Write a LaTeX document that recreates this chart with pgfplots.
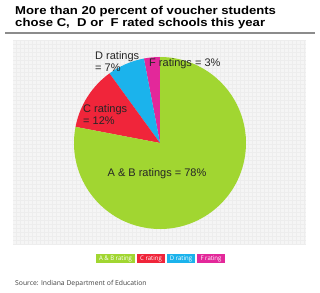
\documentclass[border=0pt]{standalone}
\usepackage{pgfplots}
\usepackage{pgfplotstable}
\pgfplotsset{compat=1.18}
\usepackage{fontspec}
\setmainfont{Liberation Sans}
\newfontfamily\srcfont{Open Sans}
\definecolor{cAB}{HTML}{A1D631}
\definecolor{cC}{HTML}{F0253A}
\definecolor{cD}{HTML}{1BB3EC}
\definecolor{cF}{HTML}{E3289A}
\definecolor{panel}{HTML}{F5F5F5}
\definecolor{gridc}{HTML}{EDEDED}

\pgfplotstableread{
name pct
AB 78
C 12
D 7
F 3
}\ratings

\begin{document}
\begin{tikzpicture}
\pgfplotstablegetelem{0}{pct}\of\ratings \edef\pAB{\pgfplotsretval}
\pgfplotstablegetelem{1}{pct}\of\ratings \edef\pC{\pgfplotsretval}
\pgfplotstablegetelem{2}{pct}\of\ratings \edef\pD{\pgfplotsretval}
\pgfplotstablegetelem{3}{pct}\of\ratings \edef\pF{\pgfplotsretval}
\pgfmathsetmacro{\aF}{90+3.6*\pF}
\pgfmathsetmacro{\aD}{\aF+3.6*\pD}
\pgfmathsetmacro{\aC}{\aD+3.6*\pC}
\pgfmathsetmacro{\aAB}{\aC+3.6*\pAB}
\begin{axis}[
  scale only axis, width=320pt, height=292pt,
  xmin=0, xmax=320, ymin=0, ymax=292,
  hide axis, clip=false,
]
\coordinate (SW) at (axis cs:0,0);
\coordinate (NE) at (axis cs:320,292);
% panel
\fill[panel] (axis cs:13,47) rectangle (axis cs:306,252);
\draw[gridc, line width=0.3pt, step=4pt] (axis cs:13,47) grid (axis cs:306,252);
% title rule
\draw[black!45, line width=1.8pt] (axis cs:5,259) -- (axis cs:315,259);
% title
\node[anchor=base west, font=\bfseries\fontsize{11.4}{12}\selectfont, inner sep=0pt, xscale=1.15] at (axis cs:15,277) {More than 20 percent of voucher students};
\node[anchor=base west, font=\bfseries\fontsize{11.4}{12}\selectfont, inner sep=0pt, xscale=1.15] at (axis cs:15,265.5) {chose C,\ \ D or\ \ F rated schools this year};
% pie
\coordinate (O) at (axis cs:160,149);
\fill[cF] (O) -- ++(90:86) arc[start angle=90, end angle=\aF, radius=86] -- cycle;
\fill[cD] (O) -- ++(\aF:86) arc[start angle=\aF, end angle=\aD, radius=86] -- cycle;
\fill[cC] (O) -- ++(\aD:86) arc[start angle=\aD, end angle=\aC, radius=86] -- cycle;
\fill[cAB] (O) -- ++(\aC:86) arc[start angle=\aC, end angle=\aAB, radius=86] -- cycle;
% labels
\node[anchor=base, font=\fontsize{11}{11}\selectfont, text=black!85, inner sep=0pt] at (axis cs:157,116) {A \& B ratings = 78\%};
\node[anchor=base west, font=\fontsize{11}{10}\selectfont, text=black!85, inner sep=0pt] at (axis cs:83,179) {C ratings};
\node[anchor=base west, font=\fontsize{11}{10}\selectfont, text=black!85, inner sep=0pt] at (axis cs:83,167.5) {= 12\%};
\node[anchor=base west, font=\fontsize{11}{10}\selectfont, text=black!85, inner sep=0pt] at (axis cs:95,232) {D ratings};
\node[anchor=base west, font=\fontsize{11}{10}\selectfont, text=black!85, inner sep=0pt] at (axis cs:95,220) {= 7\%};
\node[anchor=base west, font=\fontsize{11}{10}\selectfont, text=black!85, inner sep=0pt] at (axis cs:149,225) {F ratings = 3\%};
% legend
\fill[cAB] (axis cs:96,29) rectangle (axis cs:135,38);
\fill[cC] (axis cs:137,29) rectangle (axis cs:165,38);
\fill[cD] (axis cs:167,29) rectangle (axis cs:195,38);
\fill[cF] (axis cs:197,29) rectangle (axis cs:225,38);
\node[font=\srcfont\fontsize{6.3}{6}\selectfont, text=white, xscale=0.95] at (axis cs:115.5,33.5) {A \& B rating};
\node[font=\srcfont\fontsize{6.3}{6}\selectfont, text=white, xscale=0.95] at (axis cs:151,33.5) {C rating};
\node[font=\srcfont\fontsize{6.3}{6}\selectfont, text=white, xscale=0.95] at (axis cs:181,33.5) {D rating};
\node[font=\srcfont\fontsize{6.3}{6}\selectfont, text=white, xscale=0.95] at (axis cs:211,33.5) {F rating};
% source
\node[anchor=base west, font=\srcfont\fontsize{6.8}{7}\selectfont, text=black!75, inner sep=0pt] at (axis cs:15,7) {Source: Indiana Department of Education};
\end{axis}
\pgfresetboundingbox
\path[use as bounding box] (SW) rectangle (NE);
\end{tikzpicture}
\end{document}
